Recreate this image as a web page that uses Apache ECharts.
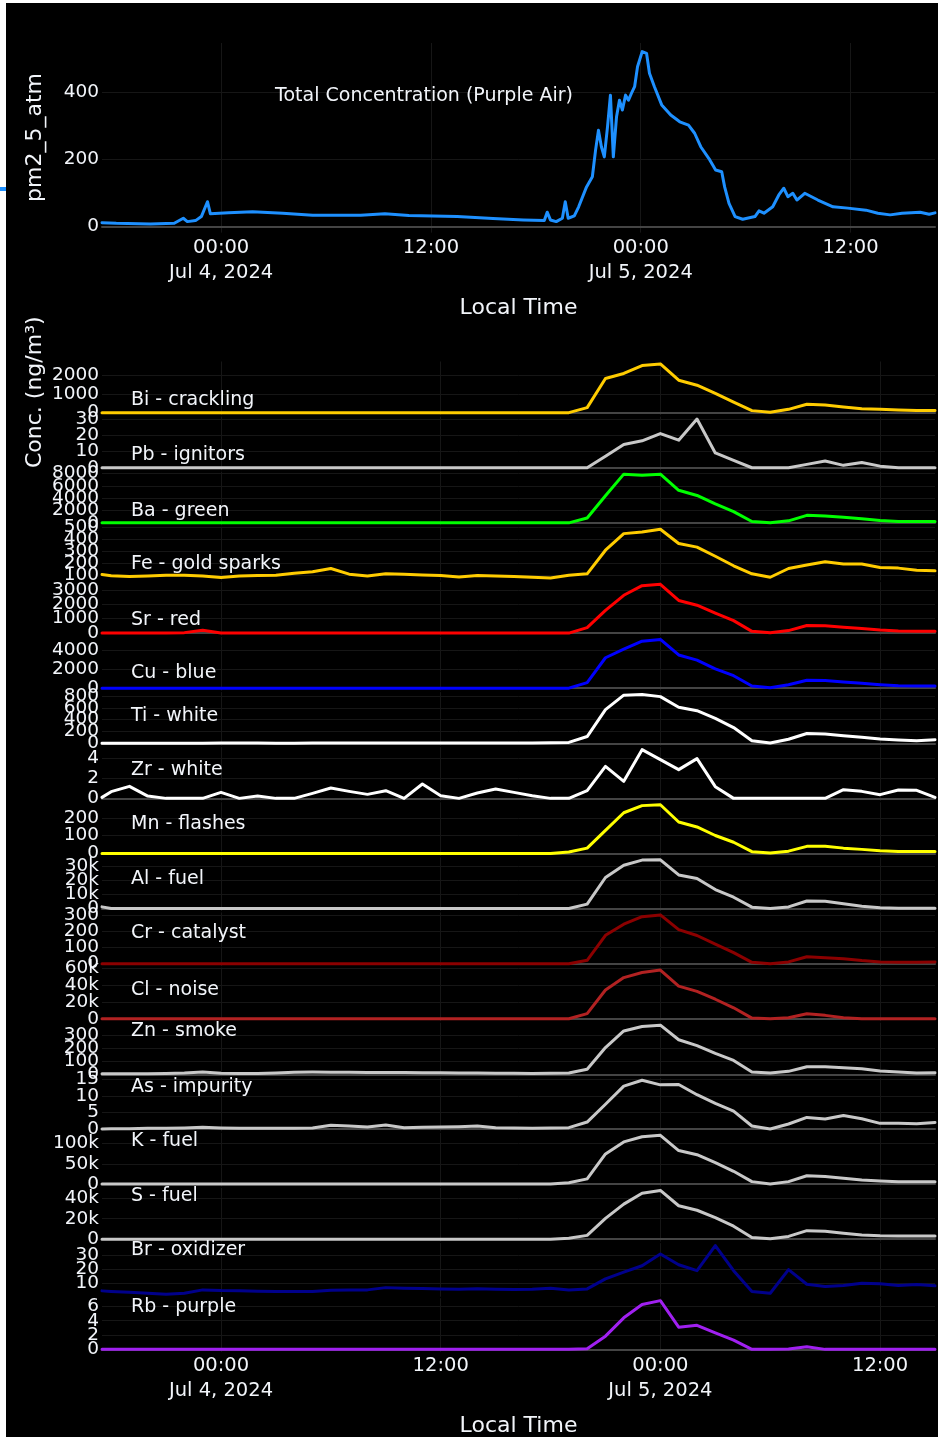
<!DOCTYPE html>
<html>
<head>
<meta charset="utf-8">
<title>Fireworks PM2.5 and elemental concentrations</title>
<script src="https://cdn.jsdelivr.net/npm/echarts@6/dist/echarts.min.js"></script>
<style>
  html, body { margin: 0; padding: 0; background: #ffffff; width: 942px; height: 1440px; overflow: hidden; }
  #chart { position: absolute; left: 6px; top: 3px; width: 932px; height: 1434px; }
  #edge-mark { position: absolute; left: 0; top: 187px; width: 6px; height: 4px; background: #1E90FF; }
</style>
</head>
<body>
<div id="edge-mark"></div>
<div id="chart"></div>
<script>
// ---------- Purple Air total PM2.5 (pm2_5_atm) ----------
const PM_TIMES = [
  '2024-07-03 17:11', '2024-07-03 18:00', '2024-07-03 19:57', '2024-07-03 21:19', '2024-07-03 21:50',
  '2024-07-03 22:04', '2024-07-03 22:32', '2024-07-03 22:52', '2024-07-03 23:13', '2024-07-03 23:23',
  '2024-07-04 00:25', '2024-07-04 01:48', '2024-07-04 03:31', '2024-07-04 05:14', '2024-07-04 07:59',
  '2024-07-04 09:22', '2024-07-04 10:44', '2024-07-04 13:30', '2024-07-04 15:33', '2024-07-04 17:17',
  '2024-07-04 18:29', '2024-07-04 18:39', '2024-07-04 18:50', '2024-07-04 19:10', '2024-07-04 19:31',
  '2024-07-04 19:41', '2024-07-04 19:51', '2024-07-04 20:12', '2024-07-04 20:27', '2024-07-04 20:54',
  '2024-07-04 21:14', '2024-07-04 21:25', '2024-07-04 21:35', '2024-07-04 21:45', '2024-07-04 21:55',
  '2024-07-04 22:06', '2024-07-04 22:16', '2024-07-04 22:26', '2024-07-04 22:37', '2024-07-04 22:47',
  '2024-07-04 22:57', '2024-07-04 23:08', '2024-07-04 23:18', '2024-07-04 23:28', '2024-07-04 23:39',
  '2024-07-04 23:49', '2024-07-05 00:05', '2024-07-05 00:20', '2024-07-05 00:30', '2024-07-05 00:47',
  '2024-07-05 01:12', '2024-07-05 01:43', '2024-07-05 02:14', '2024-07-05 02:44', '2024-07-05 03:05',
  '2024-07-05 03:26', '2024-07-05 03:57', '2024-07-05 04:17', '2024-07-05 04:38', '2024-07-05 04:48',
  '2024-07-05 05:03', '2024-07-05 05:24', '2024-07-05 05:50', '2024-07-05 06:32', '2024-07-05 06:46',
  '2024-07-05 07:03', '2024-07-05 07:33', '2024-07-05 07:54', '2024-07-05 08:11', '2024-07-05 08:25',
  '2024-07-05 08:42', '2024-07-05 08:56', '2024-07-05 09:23', '2024-07-05 10:08', '2024-07-05 11:00',
  '2024-07-05 11:51', '2024-07-05 12:53', '2024-07-05 13:34', '2024-07-05 14:16', '2024-07-05 14:57',
  '2024-07-05 15:59', '2024-07-05 16:30', '2024-07-05 16:50'
];
const PM25 = [
  12, 10, 8, 10, 25,
  15, 18, 30, 74, 38,
  41, 44, 40, 34, 34,
  38, 33, 30, 24, 20,
  18, 43, 20, 15, 25,
  74, 25, 32, 59, 118,
  148, 227, 286, 237, 207,
  296, 390, 207, 326, 375,
  346, 390, 375, 395, 415,
  474, 519, 514, 455, 415,
  361, 331, 311, 301, 277,
  237, 198, 168, 163, 118,
  69, 30, 22, 30, 47,
  40, 59, 94, 114, 89,
  99, 79, 99, 79, 59,
  55, 49, 40, 35, 40,
  43, 37, 41
];
const PM_TICKS = [0, 200, 400];

// ---------- hourly filter samples (ng/m3) ----------
const SAMPLE_TIMES = [
  '2024-07-03 17:30', '2024-07-03 18:00', '2024-07-03 19:00', '2024-07-03 20:00', '2024-07-03 21:00',
  '2024-07-03 22:00', '2024-07-03 23:00',
  '2024-07-04 00:00', '2024-07-04 01:00', '2024-07-04 02:00', '2024-07-04 03:00', '2024-07-04 04:00',
  '2024-07-04 05:00', '2024-07-04 06:00', '2024-07-04 07:00', '2024-07-04 08:00', '2024-07-04 09:00',
  '2024-07-04 10:00', '2024-07-04 11:00', '2024-07-04 12:00', '2024-07-04 13:00', '2024-07-04 14:00',
  '2024-07-04 15:00', '2024-07-04 16:00', '2024-07-04 17:00', '2024-07-04 18:00', '2024-07-04 19:00',
  '2024-07-04 20:00', '2024-07-04 21:00', '2024-07-04 22:00', '2024-07-04 23:00',
  '2024-07-05 00:00', '2024-07-05 01:00', '2024-07-05 02:00', '2024-07-05 03:00', '2024-07-05 04:00',
  '2024-07-05 05:00', '2024-07-05 06:00', '2024-07-05 07:00', '2024-07-05 08:00', '2024-07-05 09:00',
  '2024-07-05 10:00', '2024-07-05 11:00', '2024-07-05 12:00', '2024-07-05 13:00', '2024-07-05 14:00',
  '2024-07-05 15:00'
];

const BI = [0,0,0,0,0,0,0,0,0,0,0,0,0,0,0,0,0,0,0,0,0,0,0,0,0,0,0,
  270, 1840, 2110, 2540, 2625, 1750, 1480, 1040, 570, 110, 20, 180, 450, 410, 300, 210, 180, 140, 110, 120];
const PB = [0,0,0,0,0,0,0,0,0,0,0,0,0,0,0,0,0,0,0,0,0,0,0,0,0,0,0,0,
  7.1, 14.4, 16.7, 21.2, 17.1, 30.2, 9.2, 4.6, 0, 0, 0, 2.1, 4.2, 1.5, 3.3, 1.0, 0, 0, 0];
const BA = [0,0,0,0,0,0,0,0,0,0,0,0,0,0,0,0,0,0,0,0,0,0,0,0,0,0,0,
  780, 4390, 7890, 7720, 7890, 5280, 4440, 3060, 1830, 220, 0, 330, 1220, 1110, 890, 670, 390, 220, 220, 220];
const FE = [103, 92, 86, 91, 97, 97, 91, 77, 91, 94, 97, 114, 126, 154, 106, 91, 109, 106, 100, 94,
  83, 94, 91, 86, 80, 74, 97, 109, 308, 448, 462, 485, 365, 334, 257, 177, 109, 80, 154, 183,
  211, 191, 191, 163, 157, 140, 134];
const SR = [0, 0, 0, 0, 0, 30, 190, 10, 0,0,0,0,0,0,0,0,0,0,0,0,0,0,0,0,0,0,0,
  380, 1570, 2620, 3290, 3380, 2260, 1930, 1380, 860, 120, 20, 170, 520, 500, 400, 310, 210, 140, 120, 120];
const CU = [0,0,0,0,0,0,0,0,0,0,0,0,0,0,0,0,0,0,0,0,0,0,0,0,0,0,0,
  580, 3170, 4070, 4900, 5080, 3460, 2920, 2020, 1300, 220, 40, 360, 830, 790, 650, 500, 360, 250, 220, 220];
const TI = [4, 3, 3, 4, 4, 5, 5, 6, 6, 6, 5, 5, 6, 7, 6, 6, 6, 6, 7, 7, 7, 8, 8, 8, 9, 10,
  17, 116, 568, 812, 823, 788, 609, 551, 423, 267, 46, 6, 70, 168, 157, 128, 104, 75, 58, 46, 64];
const ZR = [0.1, 0.67, 1.2, 0.23, 0, 0, 0, 0.6, 0, 0.23, 0, 0, 0.5, 1.03, 0.7, 0.4, 0.77, 0, 1.43, 0.27,
  0, 0.53, 0.93, 0.6, 0.27, 0, 0, 0.77, 3.2, 1.7, 4.87, 3.87, 2.87, 3.97, 1.17, 0, 0, 0, 0, 0,
  0, 0.87, 0.7, 0.37, 0.83, 0.8, 0.1];
const MN = [0,0,0,0,0,0,0,0,0,0,0,0,0,0,0,0,0,0,0,0,0,0,0,0,0,0,
  8, 30, 130, 229, 269, 274, 177, 149, 101, 63, 10, 2, 13, 40, 40, 30, 23, 15, 11, 11, 11];
const AL = [1200, 0,0,0,0,0,0,0,0,0,0,0,0,0,0,0,0,0,0,0,0,0,0,0,0,0,0,
  3200, 22200, 30900, 34600, 34800, 24000, 21500, 13600, 8100, 1000, 0, 1200, 5400, 5200, 3500, 1700, 500, 200, 200, 200];
const CR = [0,0,0,0,0,0,0,0,0,0,0,0,0,0,0,0,0,0,0,0,0,0,0,0,0,0,0,
  21, 175, 244, 290, 301, 210, 174, 121, 68, 8, 0, 11, 43, 36, 30, 19, 11, 8, 8, 11];
const CL = [0,0,0,0,0,0,0,0,0,0,0,0,0,0,0,0,0,0,0,0,0,0,0,0,0,0,0,
  6000, 33900, 48500, 54500, 57400, 38400, 32300, 23000, 12900, 800, 0, 1200, 6000, 4000, 1200, 0, 0, 0, 0, 0];
const ZN = [5, 5, 5, 5, 8, 12, 20, 10, 8, 8, 12, 18, 19, 18, 17, 16, 16, 15, 14, 13,
  12, 11, 10, 9, 8, 9, 11, 40, 205, 331, 365, 375, 264, 219, 160, 107, 19, 11, 24, 59,
  59, 51, 43, 27, 19, 11, 13];
const AS = [0.0, 0.1, 0.1, 0.2, 0.2, 0.3, 0.5, 0.3, 0.2, 0.2, 0.2, 0.2, 0.3, 1.1, 0.9, 0.6, 1.2, 0.4, 0.5, 0.6,
  0.7, 0.9, 0.4, 0.3, 0.2, 0.3, 0.4, 2.1, 7.5, 13.0, 14.8, 13.4, 13.5, 10.4, 7.8, 5.4, 0.9, 0.0, 1.5, 3.5,
  3.0, 4.1, 3.1, 1.7, 1.7, 1.6, 2.0];
const K = [0,0,0,0,0,0,0,0,0,0,0,0,0,0,0,0,0,0,0,0,0,0,0,0,0,0,
  3400, 12800, 74400, 104300, 117000, 120500, 82900, 72600, 53000, 31600, 6000, 0, 6000, 20500, 18800, 14500, 10300, 7700, 6000, 6000, 6000];
const S = [0,0,0,0,0,0,0,0,0,0,0,0,0,0,0,0,0,0,0,0,0,0,0,0,0,0,
  1000, 3700, 20300, 34300, 45000, 47700, 32700, 28300, 21000, 12700, 1700, 300, 2700, 8300, 7700, 5700, 4000, 3300, 3000, 3000, 3000];
const BR = [4.8, 4.4, 3.8, 3.2, 2.4, 3.1, 5.5, 5.0, 4.8, 4.6, 4.4, 4.3, 4.3, 5.2, 5.5, 5.5, 7.1, 6.7, 6.4, 6.2,
  6.0, 6.3, 6.0, 5.8, 5.9, 6.6, 5.5, 6.2, 13.3, 18.1, 22.6, 30.9, 23.3, 19.1, 36.9, 19.1, 4.3, 3.1, 19.8, 9.5,
  7.9, 8.6, 10.2, 9.8, 8.6, 9.3, 8.4];
const RB = [0,0,0,0,0,0,0,0,0,0,0,0,0,0,0,0,0,0,0,0,0,0,0,0,0,0,0,
  0.1, 1.84, 4.4, 6.25, 6.8, 3.1, 3.36, 2.3, 1.29, 0, 0, 0.05, 0.37, 0, 0, 0, 0, 0, 0, 0];

// y tick values for each element panel
const BI_TICKS = [0, 1000, 2000];
const PB_TICKS = [0, 10, 20, 30];
const BA_TICKS = [0, 2000, 4000, 6000, 8000];
const FE_TICKS = [100, 200, 300, 400, 500];
const SR_TICKS = [0, 1000, 2000, 3000];
const CU_TICKS = [0, 2000, 4000];
const TI_TICKS = [0, 200, 400, 600, 800];
const ZR_TICKS = [0, 2, 4];
const MN_TICKS = [0, 100, 200];
const AL_TICKS = [0, 10000, 20000, 30000];
const CR_TICKS = [0, 100, 200, 300];
const CL_TICKS = [0, 20000, 40000, 60000];
const ZN_TICKS = [0, 100, 200, 300];
const AS_TICKS = [0, 5, 10, 15];
const K_TICKS = [0, 50000, 100000];
const S_TICKS = [0, 20000, 40000];
const BR_TICKS = [10, 20, 30];
const RB_TICKS = [0, 2, 4, 6];

// shared time ticks
const X_TICKS = ['2024-07-04 00:00', '2024-07-04 12:00', '2024-07-05 00:00', '2024-07-05 12:00'];
const X_TICK_LABELS = ['00:00\nJul 4, 2024', '12:00', '00:00\nJul 5, 2024', '12:00'];

const ELEMENT_NAMES = ['Bi - crackling', 'Pb - ignitors', 'Ba - green', 'Fe - gold sparks', 'Sr - red',
  'Cu - blue', 'Ti - white', 'Zr - white', 'Mn - flashes', 'Al - fuel', 'Cr - catalyst', 'Cl - noise',
  'Zn - smoke', 'As - impurity', 'K - fuel', 'S - fuel', 'Br - oxidizer', 'Rb - purple'];
const ELEMENT_VALUES = [BI, PB, BA, FE, SR, CU, TI, ZR, MN, AL, CR, CL, ZN, AS, K, S, BR, RB];
const ELEMENT_TICKS = [BI_TICKS, PB_TICKS, BA_TICKS, FE_TICKS, SR_TICKS, CU_TICKS, TI_TICKS, ZR_TICKS,
  MN_TICKS, AL_TICKS, CR_TICKS, CL_TICKS, ZN_TICKS, AS_TICKS, K_TICKS, S_TICKS, BR_TICKS, RB_TICKS];

// ---------- styling / layout ----------
const ELEMENT_COLORS = ['#FFCC00', '#C8C8C8', '#00FF00', '#FFCC00', '#FF0000', '#0000FF', '#FFFFFF', '#FFFFFF',
  '#FFFF00', '#C8C8C8', '#8B0000', '#B22222', '#C8C8C8', '#C8C8C8', '#C8C8C8', '#C8C8C8', '#00008B', '#A020F0'];
const PM_COLOR = '#1E90FF';
const TEXT_COLOR = '#f2f5fa';
const GRID_COLOR = '#161616';
const ZERO_COLOR = '#444444';
const FONT = '"DejaVu Sans", Verdana, sans-serif';

const OX = 6, OY = 3;                  // canvas offset inside the page
const PLOT_L = 102, PLOT_R = 935;      // page x of the plotting area
const TOP_Y = 43, TOP_H = 189.6;       // top panel box
const ROW_Y0 = 361.5, ROW_STEP = 55.1, ROW_H = 53.6;
const LABEL_Y = [399.8, 454.7, 510.7, 564, 620, 673.3, 716, 770, 824, 879.3, 933.3, 990,
  1030.7, 1086.7, 1140.7, 1196, 1250, 1306.7];

function toMs(s) {
  const [d, t] = s.split(' ');
  const [Y, M, D] = d.split('-').map(Number);
  const [h, m] = t.split(':').map(Number);
  return Date.UTC(Y, M - 1, D, h, m);
}
const xTickMs = X_TICKS.map(toMs);
function xLabel(v) {
  const i = xTickMs.indexOf(v);
  return i >= 0 ? X_TICK_LABELS[i] : '';
}
function yLabel(v) {
  if (Math.abs(v) >= 10000) return (v / 1000) + 'k';
  return String(v);
}
function padRange(vals) {
  const lo = Math.min(...vals), hi = Math.max(...vals);
  const pad = (hi - lo) * 0.05;
  return [lo - pad, hi + pad];
}

const grids = [], xAxes = [], yAxes = [], series = [], graphics = [];
const yTickSets = [];   // ticks drawn for each y axis, in axis order

function addPanel(idx, top, height, times, vals, ticks, color, width, xLabelMode) {
  const xs = times.map(toMs);
  const [ymin, ymax] = padRange(vals);
  const zeroIn = ymin < 0 && ymax > 0;
  grids.push({ left: PLOT_L - OX, width: PLOT_R - PLOT_L, top: top - OY, height: height });
  xAxes.push({
    gridIndex: idx, type: 'value', min: xs[0], max: xs[xs.length - 1],
    axisLine: { show: zeroIn, onZero: true, lineStyle: { color: ZERO_COLOR, width: 2 } },
    axisTick: { show: false, customValues: xTickMs },
    axisLabel: { show: !!xLabelMode, customValues: xTickMs, formatter: xLabel,
      fontFamily: FONT, color: TEXT_COLOR, fontSize: 19.5, lineHeight: 25,
      margin: xLabelMode === 'top' ? 3 : 2, interval: 0, showMinLabel: true, showMaxLabel: true },
    splitLine: { show: true, lineStyle: { color: GRID_COLOR, width: 1 } }
  });
  const shown = ticks.filter(t => t >= ymin && t <= ymax);
  yTickSets.push(shown);
  yAxes.push({
    gridIndex: idx, type: 'value', min: ymin, max: ymax,
    axisLine: { show: false },
    axisTick: { show: false, customValues: shown },
    axisLabel: { show: false },
    splitLine: { show: true, lineStyle: { color: GRID_COLOR, width: 1 } }
  });
  series.push({
    type: 'line', xAxisIndex: idx, yAxisIndex: idx,
    data: xs.map((x, k) => [x, vals[k]]),
    showSymbol: false, symbol: 'none', silent: true,
    lineStyle: { color: color, width: width, join: 'round', cap: 'round' },
    z: 3
  });
}

// top panel
addPanel(0, TOP_Y, TOP_H, PM_TIMES, PM25, PM_TICKS, PM_COLOR, 3, 'top');

// element panels
ELEMENT_NAMES.forEach((name, i) => {
  const top = ROW_Y0 + ROW_STEP * i;
  addPanel(i + 1, top, ROW_H, SAMPLE_TIMES, ELEMENT_VALUES[i], ELEMENT_TICKS[i], ELEMENT_COLORS[i], 3,
    i === ELEMENT_NAMES.length - 1 ? 'bottom' : null);
  graphics.push({
    type: 'text', x: 131 - OX, y: LABEL_Y[i] - OY, z: 10,
    style: { text: name, fill: TEXT_COLOR, font: '19px ' + FONT, textAlign: 'left', textVerticalAlign: 'middle' }
  });
});

// titles
graphics.push(
  { type: 'text', x: 424 - OX, y: 96 - OY, z: 10,
    style: { text: 'Total Concentration (Purple Air)', fill: TEXT_COLOR, font: '19px ' + FONT,
      textAlign: 'center', textVerticalAlign: 'middle' } },
  { type: 'text', x: 518.5 - OX, y: 308 - OY, z: 10,
    style: { text: 'Local Time', fill: TEXT_COLOR, font: '22px ' + FONT, textAlign: 'center', textVerticalAlign: 'middle' } },
  { type: 'text', x: 518.5 - OX, y: 1426 - OY, z: 10,
    style: { text: 'Local Time', fill: TEXT_COLOR, font: '22px ' + FONT, textAlign: 'center', textVerticalAlign: 'middle' } },
  { type: 'text', x: 35 - OX, y: 137.5 - OY, rotation: Math.PI / 2, z: 10,
    style: { text: 'pm2_5_atm', fill: TEXT_COLOR, font: '22px ' + FONT, textAlign: 'center', textVerticalAlign: 'middle' } },
  { type: 'text', x: 35 - OX, y: 468 - OY, rotation: Math.PI / 2, z: 10,
    style: { text: 'Conc. (ng/m\u00B3)', fill: TEXT_COLOR, font: '22px ' + FONT, textAlign: 'left', textVerticalAlign: 'middle' } }
);

const chart = echarts.init(document.getElementById('chart'), null, { renderer: 'canvas' });
chart.setOption({
  backgroundColor: '#000000',
  animation: false,
  grid: grids,
  xAxis: xAxes,
  yAxis: yAxes,
  series: series,
  graphic: graphics
});

// y tick labels: every tick is drawn (they overlap in the crowded panels),
// placed through each y axis' own scale
const tickLabels = [];
yTickSets.forEach((ticks, i) => {
  ticks.forEach(v => {
    const py = chart.convertToPixel({ yAxisIndex: i }, v);
    tickLabels.push({
      type: 'text', x: PLOT_L - OX - 3, y: py, z: 9,
      style: { text: yLabel(v), fill: TEXT_COLOR, font: '18.5px ' + FONT, textAlign: 'right', textVerticalAlign: 'middle' }
    });
  });
});
chart.setOption({ graphic: graphics.concat(tickLabels) });
</script>
</body>
</html>
